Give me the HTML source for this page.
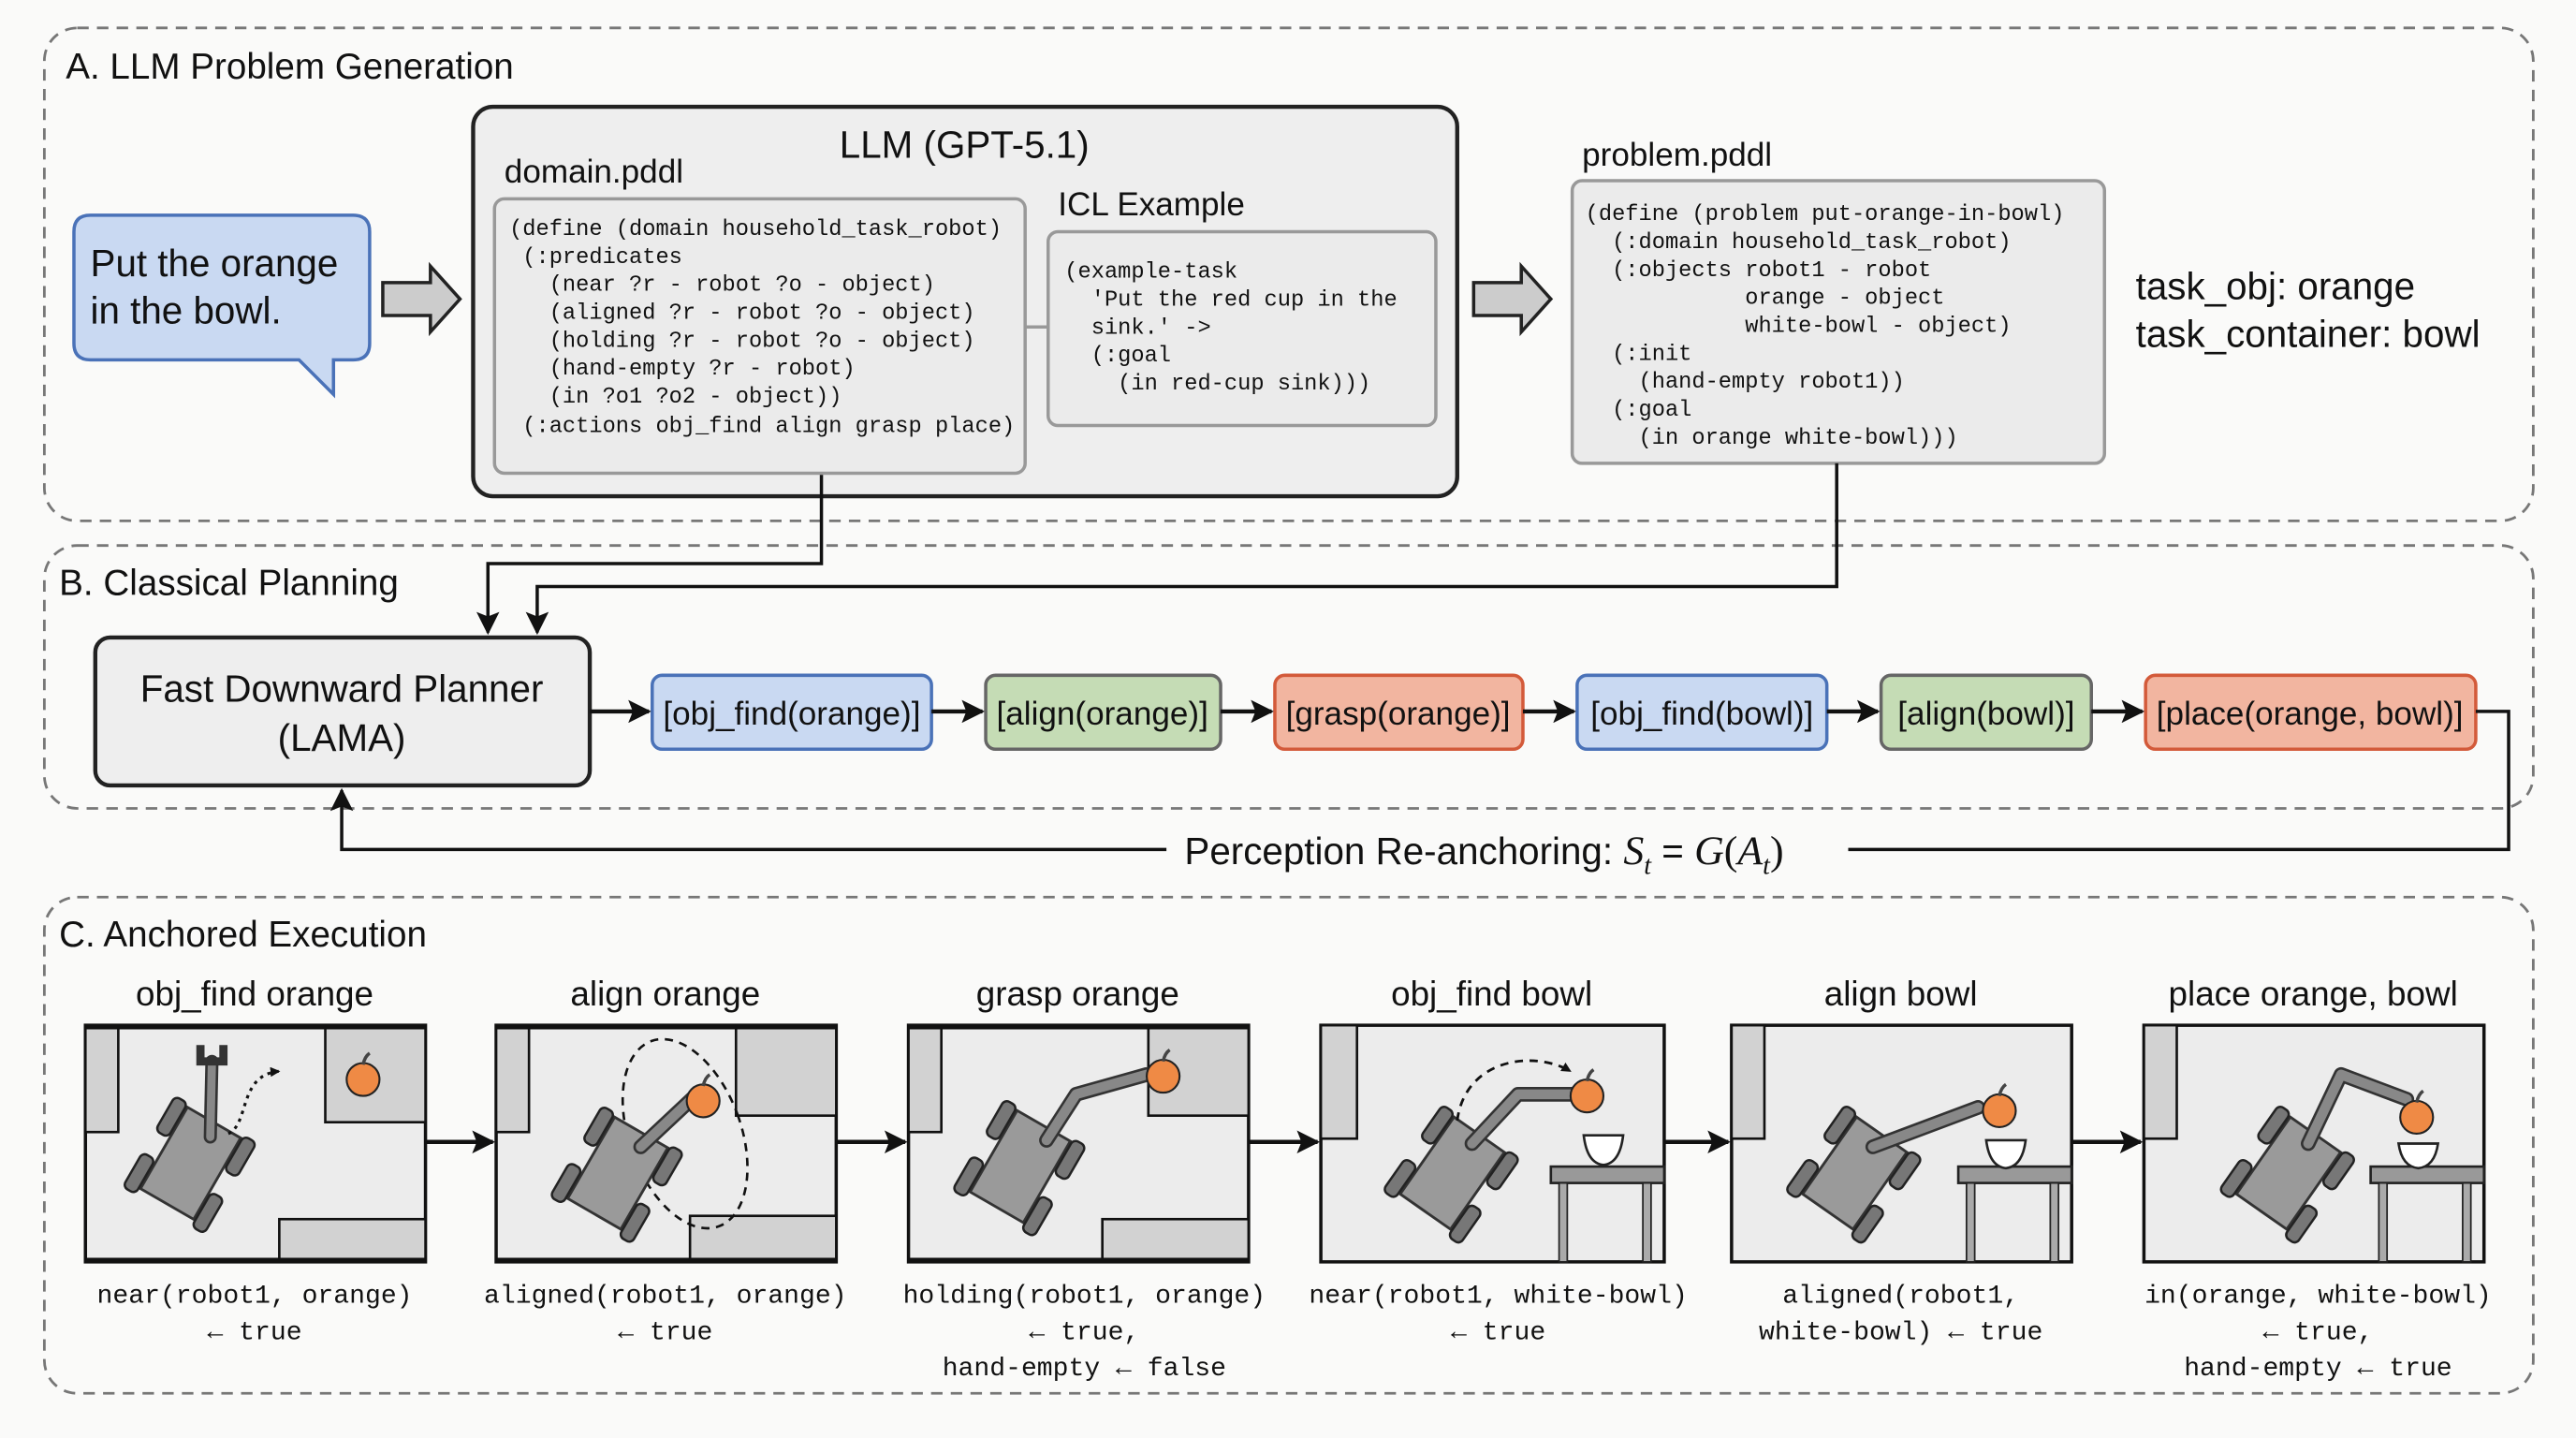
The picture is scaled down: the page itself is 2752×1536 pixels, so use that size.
<!DOCTYPE html>
<html><head><meta charset="utf-8"><style>
html,body{margin:0;padding:0;background:#fafaf9;}
svg{display:block;}
.s{font-family:"Liberation Sans",sans-serif;fill:#111;}
.m{font-family:"Liberation Mono",monospace;fill:#111;}
</style></head><body>
<svg width="2752" height="1536" viewBox="0 0 1568 875.2" preserveAspectRatio="none" xmlns="http://www.w3.org/2000/svg">
<defs>
<marker id="ah" viewBox="0 0 10 10" refX="9" refY="5" markerWidth="6" markerHeight="6" orient="auto-start-reverse" markerUnits="userSpaceOnUse"><path d="M0,0 L10,5 L0,10 z" fill="#111"/></marker>
<marker id="ah2" viewBox="0 0 10 10" refX="9" refY="5" markerWidth="16" markerHeight="14" orient="auto" markerUnits="userSpaceOnUse"><path d="M0,0 L10,5 L0,10 L2,5 z" fill="#111"/></marker>
<g id="bot">
 <rect x="-17" y="-26" width="34" height="52" fill="#9a9a9a" stroke="#333" stroke-width="1.5"/>
 <rect x="-26" y="-28" width="8" height="22" rx="3" fill="#777" stroke="#222" stroke-width="1.3"/>
 <rect x="-26" y="8" width="8" height="22" rx="3" fill="#777" stroke="#222" stroke-width="1.3"/>
 <rect x="18" y="-28" width="8" height="22" rx="3" fill="#777" stroke="#222" stroke-width="1.3"/>
 <rect x="18" y="8" width="8" height="22" rx="3" fill="#777" stroke="#222" stroke-width="1.3"/>
</g>
<g id="orange"><circle r="10" fill="#ef8a45" stroke="#222" stroke-width="1.2"/><path d="M0,-9 q1,-5 4,-7" stroke="#444" stroke-width="2" fill="none"/></g>
</defs>
<rect width="1568" height="876" fill="#fafaf9"/>

<!-- Section A -->
<rect x="27" y="17" width="1515" height="300" rx="20" fill="none" stroke="#777" stroke-width="1.6" stroke-dasharray="7,5"/>
<text class="s" x="40" y="48" font-size="22">A. LLM Problem Generation</text>
<path d="M55,131 H215 Q225,131 225,141 V209 Q225,219 215,219 H203 V240 L182,219 H55 Q45,219 45,209 V141 Q45,131 55,131 Z" fill="#c9d9f2" stroke="#4a72b8" stroke-width="2"/>
<text class="s" x="55" y="168" font-size="23">Put the orange</text>
<text class="s" x="55" y="197" font-size="23">in the bowl.</text>
<path d="M233,172 H262 V162 L280,182 L262,202 V192 H233 Z" fill="#ccc" stroke="#222" stroke-width="2"/>

<rect x="288" y="65" width="599" height="237" rx="12" fill="#eeeeee" stroke="#222" stroke-width="2.5"/>
<text class="s" x="587" y="96" font-size="23" text-anchor="middle">LLM (GPT-5.1)</text>
<text class="s" x="307" y="111" font-size="20">domain.pddl</text>
<rect x="301" y="121" width="323" height="167" rx="6" fill="#ebebeb" stroke="#999" stroke-width="2"/>
<g class="m" font-size="13.5">
<text x="310" y="143">(define (domain household_task_robot)</text>
<text x="310" y="160">&#160;(:predicates</text>
<text x="310" y="177">&#160;&#160;&#160;(near ?r - robot ?o - object)</text>
<text x="310" y="194">&#160;&#160;&#160;(aligned ?r - robot ?o - object)</text>
<text x="310" y="211">&#160;&#160;&#160;(holding ?r - robot ?o - object)</text>
<text x="310" y="228">&#160;&#160;&#160;(hand-empty ?r - robot)</text>
<text x="310" y="245">&#160;&#160;&#160;(in ?o1 ?o2 - object))</text>
<text x="310" y="263">&#160;(:actions obj_find align grasp place)</text>
</g>
<line x1="624" y1="199" x2="638" y2="199" stroke="#999" stroke-width="2"/>
<text class="s" x="644" y="131" font-size="20">ICL Example</text>
<rect x="638" y="141" width="236" height="118" rx="6" fill="#ebebeb" stroke="#999" stroke-width="2"/>
<g class="m" font-size="13.5">
<text x="648" y="169">(example-task</text>
<text x="648" y="186">&#160;&#160;'Put the red cup in the</text>
<text x="648" y="203">&#160;&#160;sink.' -&gt;</text>
<text x="648" y="220">&#160;&#160;(:goal</text>
<text x="648" y="237">&#160;&#160;&#160;&#160;(in red-cup sink)))</text>
</g>
<path d="M897,172 H926 V162 L944,182 L926,202 V192 H897 Z" fill="#ccc" stroke="#222" stroke-width="2"/>
<text class="s" x="963" y="101" font-size="20">problem.pddl</text>
<rect x="957" y="110" width="324" height="172" rx="6" fill="#ebebeb" stroke="#999" stroke-width="2"/>
<g class="m" font-size="13.5">
<text x="965" y="134">(define (problem put-orange-in-bowl)</text>
<text x="965" y="151">&#160;&#160;(:domain household_task_robot)</text>
<text x="965" y="168">&#160;&#160;(:objects robot1 - robot</text>
<text x="965" y="185">&#160;&#160;&#160;&#160;&#160;&#160;&#160;&#160;&#160;&#160;&#160;&#160;orange - object</text>
<text x="965" y="202">&#160;&#160;&#160;&#160;&#160;&#160;&#160;&#160;&#160;&#160;&#160;&#160;white-bowl - object)</text>
<text x="965" y="219">&#160;&#160;(:init</text>
<text x="965" y="236">&#160;&#160;&#160;&#160;(hand-empty robot1))</text>
<text x="965" y="253">&#160;&#160;(:goal</text>
<text x="965" y="270">&#160;&#160;&#160;&#160;(in orange white-bowl)))</text>
</g>
<text class="s" x="1300" y="182" font-size="23">task_obj: orange</text>
<text class="s" x="1300" y="211" font-size="23">task_container: bowl</text>

<!-- Section B -->
<rect x="27" y="332" width="1515" height="160" rx="20" fill="none" stroke="#777" stroke-width="1.6" stroke-dasharray="7,5"/>
<text class="s" x="36" y="362" font-size="22">B. Classical Planning</text>
<path d="M500,289 V343 H297 V385" fill="none" stroke="#111" stroke-width="2" marker-end="url(#ah2)"/>
<path d="M1118,282 V357 H327 V385" fill="none" stroke="#111" stroke-width="2" marker-end="url(#ah2)"/>
<rect x="58" y="388" width="301" height="90" rx="9" fill="#eeeeee" stroke="#222" stroke-width="2.5"/>
<text class="s" x="208" y="427" font-size="23" text-anchor="middle">Fast Downward Planner</text>
<text class="s" x="208" y="457" font-size="23" text-anchor="middle">(LAMA)</text>
<g stroke-width="2">
<rect x="397" y="411" width="170" height="45" rx="6" fill="#c9d9f2" stroke="#4a72b8"/>
<rect x="600" y="411" width="143" height="45" rx="6" fill="#c5dcb5" stroke="#666"/>
<rect x="776" y="411" width="151" height="45" rx="6" fill="#f2b5a0" stroke="#d35a3a"/>
<rect x="960" y="411" width="152" height="45" rx="6" fill="#c9d9f2" stroke="#4a72b8"/>
<rect x="1145" y="411" width="128" height="45" rx="6" fill="#c5dcb5" stroke="#666"/>
<rect x="1306" y="411" width="201" height="45" rx="6" fill="#f2b5a0" stroke="#d35a3a"/>
</g>
<g class="s" font-size="20" text-anchor="middle">
<text x="482" y="441">[obj_find(orange)]</text>
<text x="671" y="441">[align(orange)]</text>
<text x="851" y="441">[grasp(orange)]</text>
<text x="1036" y="441">[obj_find(bowl)]</text>
<text x="1209" y="441">[align(bowl)]</text>
<text x="1406" y="441">[place(orange, bowl)]</text>
</g>
<g stroke="#111" stroke-width="2.5" marker-end="url(#ah2)">
<line x1="359" y1="433" x2="395" y2="433"/>
<line x1="567" y1="433" x2="598" y2="433"/>
<line x1="743" y1="433" x2="774" y2="433"/>
<line x1="927" y1="433" x2="958" y2="433"/>
<line x1="1112" y1="433" x2="1143" y2="433"/>
<line x1="1273" y1="433" x2="1304" y2="433"/>
</g>
<path d="M1507,433 H1527 V517 H1125" fill="none" stroke="#111" stroke-width="2"/>
<path d="M710,517 H208 V481" fill="none" stroke="#111" stroke-width="2" marker-end="url(#ah2)"/>
<text class="s" x="721" y="526" font-size="23">Perception Re-anchoring: <tspan font-family="Liberation Serif" font-style="italic" font-size="25">S</tspan><tspan font-family="Liberation Serif" font-style="italic" font-size="16" dy="6">t</tspan><tspan dy="-6"> = </tspan><tspan font-family="Liberation Serif" font-style="italic" font-size="25">G</tspan><tspan font-family="Liberation Serif" font-size="25">(</tspan><tspan font-family="Liberation Serif" font-style="italic" font-size="25">A</tspan><tspan font-family="Liberation Serif" font-style="italic" font-size="16" dy="6">t</tspan><tspan font-family="Liberation Serif" font-size="25" dy="-6">)</tspan></text>

<!-- Section C -->
<rect x="27" y="546" width="1515" height="302" rx="20" fill="none" stroke="#777" stroke-width="1.6" stroke-dasharray="7,5"/>
<text class="s" x="36" y="576" font-size="22">C. Anchored Execution</text>
<g class="s" font-size="21" text-anchor="middle">
<text x="155" y="612">obj_find orange</text>
<text x="405" y="612">align orange</text>
<text x="656" y="612">grasp orange</text>
<text x="908" y="612">obj_find bowl</text>
<text x="1157" y="612">align bowl</text>
<text x="1408" y="612">place orange, bowl</text>
</g>
<g stroke="#111" stroke-width="2.5" marker-end="url(#ah2)">
<line x1="259" y1="695" x2="300" y2="695"/>
<line x1="509" y1="695" x2="551" y2="695"/>
<line x1="760" y1="695" x2="802" y2="695"/>
<line x1="1013" y1="695" x2="1052" y2="695"/>
<line x1="1261" y1="695" x2="1303" y2="695"/>
</g>

<!-- Panel 1 -->
<g transform="translate(52,624)">
<rect width="207" height="144" fill="#ececec" stroke="#111" stroke-width="2"/>
<rect x="0" y="0" width="20" height="65" fill="#d2d2d2" stroke="#111" stroke-width="1.5"/>
<rect x="146" y="0" width="61" height="59" fill="#d2d2d2" stroke="#111" stroke-width="1.5"/>
<rect x="118" y="118" width="89" height="26" fill="#d2d2d2" stroke="#111" stroke-width="1.5"/>
<line x1="0" y1="1" x2="207" y2="1" stroke="#111" stroke-width="3"/><line x1="0" y1="143" x2="207" y2="143" stroke="#111" stroke-width="3"/>
<g transform="translate(64,84) rotate(30) scale(1.1)"><use href="#bot"/></g>
<line x1="76" y1="68" x2="77" y2="22" stroke="#333" stroke-width="8" stroke-linecap="round"/>
<line x1="76" y1="68" x2="77" y2="22" stroke="#888" stroke-width="5" stroke-linecap="round"/>
<path d="M70,12 v10 h14 v-10" fill="none" stroke="#333" stroke-width="5"/>
<path d="M87,66 C100,60 93,30 118,28" fill="none" stroke="#111" stroke-width="1.8" stroke-dasharray="2,3" marker-end="url(#ah)"/>
<g transform="translate(169,33)"><use href="#orange"/></g>
</g>
<!-- Panel 2 -->
<g transform="translate(302,624)">
<rect width="207" height="144" fill="#ececec" stroke="#111" stroke-width="2"/>
<rect x="0" y="0" width="20" height="65" fill="#d2d2d2" stroke="#111" stroke-width="1.5"/>
<rect x="146" y="0" width="61" height="55" fill="#d2d2d2" stroke="#111" stroke-width="1.5"/>
<rect x="118" y="116" width="89" height="28" fill="#d2d2d2" stroke="#111" stroke-width="1.5"/>
<line x1="0" y1="1" x2="207" y2="1" stroke="#111" stroke-width="3"/><line x1="0" y1="143" x2="207" y2="143" stroke="#111" stroke-width="3"/>
<ellipse cx="115" cy="66" rx="34" ry="60" transform="rotate(-20 115 66)" fill="none" stroke="#111" stroke-width="1.5" stroke-dasharray="5,4"/>
<g transform="translate(74,90) rotate(30) scale(1.1)"><use href="#bot"/></g>
<line x1="88" y1="74" x2="120" y2="44" stroke="#333" stroke-width="9" stroke-linecap="round"/>
<line x1="88" y1="74" x2="120" y2="44" stroke="#888" stroke-width="6" stroke-linecap="round"/>
<g transform="translate(126,46)"><use href="#orange"/></g>
</g>
<!-- Panel 3 -->
<g transform="translate(553,624)">
<rect width="207" height="144" fill="#ececec" stroke="#111" stroke-width="2"/>
<rect x="0" y="0" width="20" height="65" fill="#d2d2d2" stroke="#111" stroke-width="1.5"/>
<rect x="146" y="0" width="61" height="55" fill="#d2d2d2" stroke="#111" stroke-width="1.5"/>
<rect x="118" y="118" width="89" height="26" fill="#d2d2d2" stroke="#111" stroke-width="1.5"/>
<line x1="0" y1="1" x2="207" y2="1" stroke="#111" stroke-width="3"/><line x1="0" y1="143" x2="207" y2="143" stroke="#111" stroke-width="3"/>
<g transform="translate(68,86) rotate(30) scale(1.1)"><use href="#bot"/></g>
<path d="M84,70 L102,42 L145,30" fill="none" stroke="#333" stroke-width="9" stroke-linecap="round" stroke-linejoin="round"/>
<path d="M84,70 L102,42 L145,30" fill="none" stroke="#888" stroke-width="6" stroke-linecap="round" stroke-linejoin="round"/>
<g transform="translate(155,31)"><use href="#orange"/></g>
</g>
<!-- Panels 4-6 (side view) -->
<g transform="translate(804,624)">
<rect width="209" height="144" fill="#ececec" stroke="#111" stroke-width="2"/>
<rect x="0" y="0" width="22" height="69" fill="#d2d2d2" stroke="#111" stroke-width="1.5"/>
<rect x="140" y="86" width="69" height="10" fill="#999" stroke="#222" stroke-width="1.5"/>
<rect x="145" y="96" width="5" height="48" fill="#aaa" stroke="#222"/><rect x="196" y="96" width="5" height="48" fill="#aaa" stroke="#222"/>
<path d="M160,67 H184 Q182,84 172,85 Q162,84 160,67 Z" fill="#fff" stroke="#222" stroke-width="1.5"/>
<g transform="translate(80,90) rotate(35) scale(1.1)"><use href="#bot"/></g>
<path d="M92,72 L120,42 L155,42" fill="none" stroke="#333" stroke-width="9" stroke-linecap="round" stroke-linejoin="round"/>
<path d="M92,72 L120,42 L155,42" fill="none" stroke="#888" stroke-width="6" stroke-linecap="round" stroke-linejoin="round"/>
<path d="M83,58 C88,20 130,15 152,28" fill="none" stroke="#111" stroke-width="1.6" stroke-dasharray="5,4" marker-end="url(#ah)"/>
<g transform="translate(162,43)"><use href="#orange"/></g>
</g>
<g transform="translate(1054,624)">
<rect width="207" height="144" fill="#ececec" stroke="#111" stroke-width="2"/>
<rect x="0" y="0" width="20" height="69" fill="#d2d2d2" stroke="#111" stroke-width="1.5"/>
<rect x="138" y="86" width="69" height="10" fill="#999" stroke="#222" stroke-width="1.5"/>
<rect x="143" y="96" width="5" height="48" fill="#aaa" stroke="#222"/><rect x="194" y="96" width="5" height="48" fill="#aaa" stroke="#222"/>
<path d="M155,70 H179 Q177,86 167,87 Q157,86 155,70 Z" fill="#fff" stroke="#222" stroke-width="1.5"/>
<g transform="translate(75,90) rotate(35) scale(1.1)"><use href="#bot"/></g>
<path d="M86,74 L150,50" fill="none" stroke="#333" stroke-width="9" stroke-linecap="round"/>
<path d="M86,74 L150,50" fill="none" stroke="#888" stroke-width="6" stroke-linecap="round"/>
<g transform="translate(163,52)"><use href="#orange"/></g>
</g>
<g transform="translate(1305,624)">
<rect width="207" height="144" fill="#ececec" stroke="#111" stroke-width="2"/>
<rect x="0" y="0" width="20" height="69" fill="#d2d2d2" stroke="#111" stroke-width="1.5"/>
<rect x="138" y="86" width="69" height="10" fill="#999" stroke="#222" stroke-width="1.5"/>
<rect x="143" y="96" width="5" height="48" fill="#aaa" stroke="#222"/><rect x="194" y="96" width="5" height="48" fill="#aaa" stroke="#222"/>
<path d="M155,72 H179 Q177,86 167,87 Q157,86 155,72 Z" fill="#fff" stroke="#222" stroke-width="1.5"/>
<g transform="translate(88,90) rotate(35) scale(1.1)"><use href="#bot"/></g>
<path d="M100,72 L120,30 L160,45" fill="none" stroke="#333" stroke-width="9" stroke-linecap="round" stroke-linejoin="round"/>
<path d="M100,72 L120,30 L160,45" fill="none" stroke="#888" stroke-width="6" stroke-linecap="round" stroke-linejoin="round"/>
<g transform="translate(166,56)"><use href="#orange"/></g>
</g>

<g class="m" font-size="16" text-anchor="middle">
<text x="155" y="793">near(robot1, orange)</text>
<text x="155" y="815">← true</text>
<text x="405" y="793">aligned(robot1, orange)</text>
<text x="405" y="815">← true</text>
<text x="660" y="793">holding(robot1, orange)</text>
<text x="660" y="815">← true,</text>
<text x="660" y="837">hand-empty ← false</text>
<text x="912" y="793">near(robot1, white-bowl)</text>
<text x="912" y="815">← true</text>
<text x="1157" y="793">aligned(robot1,</text>
<text x="1157" y="815">white-bowl) ← true</text>
<text x="1411" y="793">in(orange, white-bowl)</text>
<text x="1411" y="815">← true,</text>
<text x="1411" y="837">hand-empty ← true</text>
</g>
</svg>
</body></html>
